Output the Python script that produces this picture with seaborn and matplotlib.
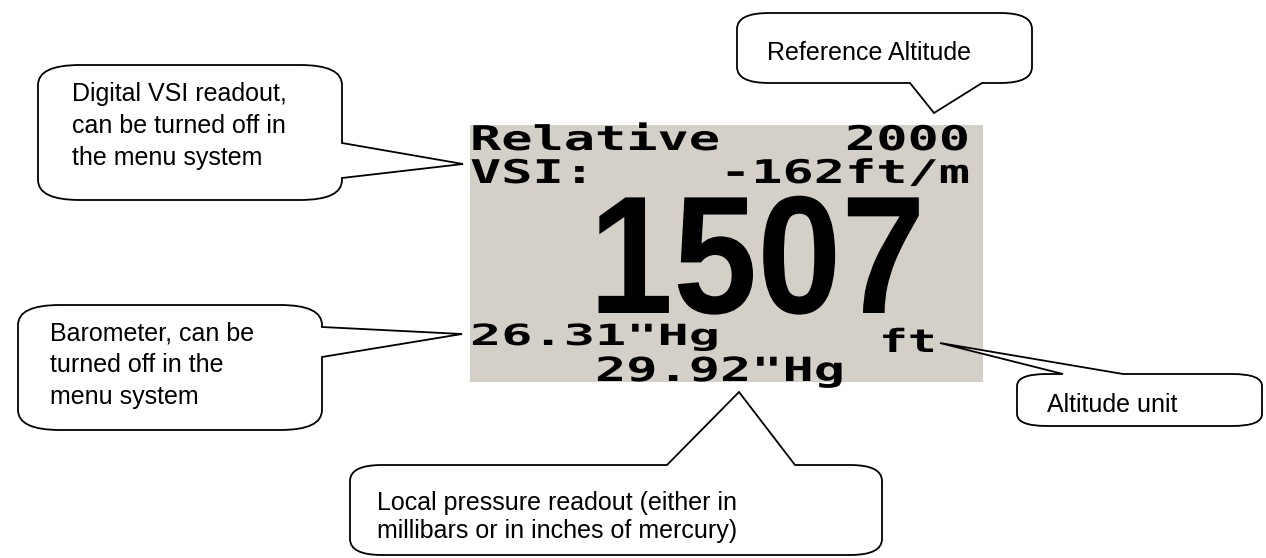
import matplotlib
matplotlib.use("Agg")
import matplotlib.pyplot as plt
import seaborn as sns
from matplotlib.path import Path
from matplotlib.patches import PathPatch, Rectangle
from matplotlib.patheffects import AbstractPathEffect
from matplotlib.transforms import Affine2D

# Display readout (LCD screen contents)
lcd_line1 = "Relative    2000"
lcd_line2 = "VSI:    -162ft/m"
altitude = "1507"
baro_text = "26.31\"Hg"
unit_text = "ft"
local_text = "29.92\"Hg"

# Callout labels
vsi_label = ["Digital VSI readout,", "can be turned off in", "the menu system"]
ref_label = ["Reference Altitude"]
baro_label = ["Barometer, can be", "turned off in the", "menu system"]
unit_label = ["Altitude unit"]
local_label = ["Local pressure readout (either in", "millibars or in inches of mercury)"]


class HStretch(AbstractPathEffect):
    # widen/narrow text glyphs horizontally around the text origin
    def __init__(self, sx):
        super().__init__()
        self.sx = sx

    def draw_path(self, renderer, gc, tpath, affine, rgbFace=None):
        x0 = affine.get_matrix()[0, 2]
        aff = affine + Affine2D().translate(-x0, 0).scale(self.sx, 1).translate(x0, 0)
        renderer.draw_path(gc, tpath, aff, rgbFace)


def bubble(left, top, right, bottom, rx, ry, side, w1, w2, tip):
    verts = [(left, top + ry)]
    codes = [Path.MOVETO]

    def line(p):
        verts.append(p)
        codes.append(Path.LINETO)

    def corner(c, p):
        verts.extend([c, p])
        codes.extend([Path.CURVE3, Path.CURVE3])

    corner((left, top), (left + rx, top))
    if side == "top":
        line((min(w1, w2), top)); line(tip); line((max(w1, w2), top))
    line((right - rx, top))
    corner((right, top), (right, top + ry))
    if side == "right":
        line((right, min(w1, w2))); line(tip); line((right, max(w1, w2)))
    line((right, bottom - ry))
    corner((right, bottom), (right - rx, bottom))
    if side == "bottom":
        line((max(w1, w2), bottom)); line(tip); line((min(w1, w2), bottom))
    line((left + rx, bottom))
    corner((left, bottom), (left, bottom - ry))
    verts.append((left, top + ry))
    codes.append(Path.CLOSEPOLY)
    return Path(verts, codes)


sns.set_theme(style="white")
plt.rcParams["font.family"] = ["Liberation Sans", "DejaVu Sans"]

fig = plt.figure(figsize=(12.66, 5.58), dpi=100)
ax = fig.add_axes([0, 0, 1, 1])
ax.set_xlim(0, 1266)
ax.set_ylim(558, 0)
ax.axis("off")

# LCD screen
screen = Rectangle((470, 125), 513, 257, facecolor="#d4d0c8", edgecolor="none", zorder=1)
ax.add_patch(screen)

mono = dict(family="DejaVu Sans Mono", weight="bold", color="black", zorder=2,
            ha="left", va="baseline")
for txt, x, y, size in [(lcd_line1, 470, 150, 24.5), (lcd_line2, 470, 183, 23.5),
                        (baro_text, 470, 345, 21), (local_text, 595, 381, 24)]:
    t = ax.text(x, y, txt, fontsize=size, **mono)
    t.set_path_effects([HStretch(31.25 / (0.602 * size * 100 / 72))])
    t.set_clip_path(screen)
t = ax.text(879, 352, unit_text, fontsize=23, **mono)
t.set_path_effects([HStretch(1.5)])

t = ax.text(589, 313, altitude, fontsize=121, family="Liberation Sans", weight="bold",
            color="black", ha="left", va="baseline", zorder=2)
t.set_path_effects([HStretch(0.9)])

# callouts
callouts = [
    (vsi_label, (38, 65, 342, 200, 42, 20, "right", 143, 178, (463, 164)), 72, 101, 32),
    (ref_label, (737, 13, 1032, 83, 32, 16, "bottom", 910, 982, (934, 113)), 767, 60, 30),
    (baro_label, (18, 305, 322, 430, 42, 20, "right", 327, 357, (462, 334)), 50, 340, 32),
    (unit_label, (1017, 374, 1262, 426, 30, 12, "top", 1063, 1123, (940, 343)), 1047, 412, 30),
    (local_label, (350, 465, 882, 555, 32, 16, "top", 667, 795, (739, 392)), 377, 510, 28),
]
for lines, geom, tx, ty, dy in callouts:
    ax.add_patch(PathPatch(bubble(*geom), facecolor="white", edgecolor="black",
                           lw=1.3, zorder=3))
    for i, s in enumerate(lines):
        ax.text(tx, ty + i * dy, s, fontsize=18, color="black", ha="left",
                va="baseline", zorder=4)

fig.savefig("out.png", dpi=100)
